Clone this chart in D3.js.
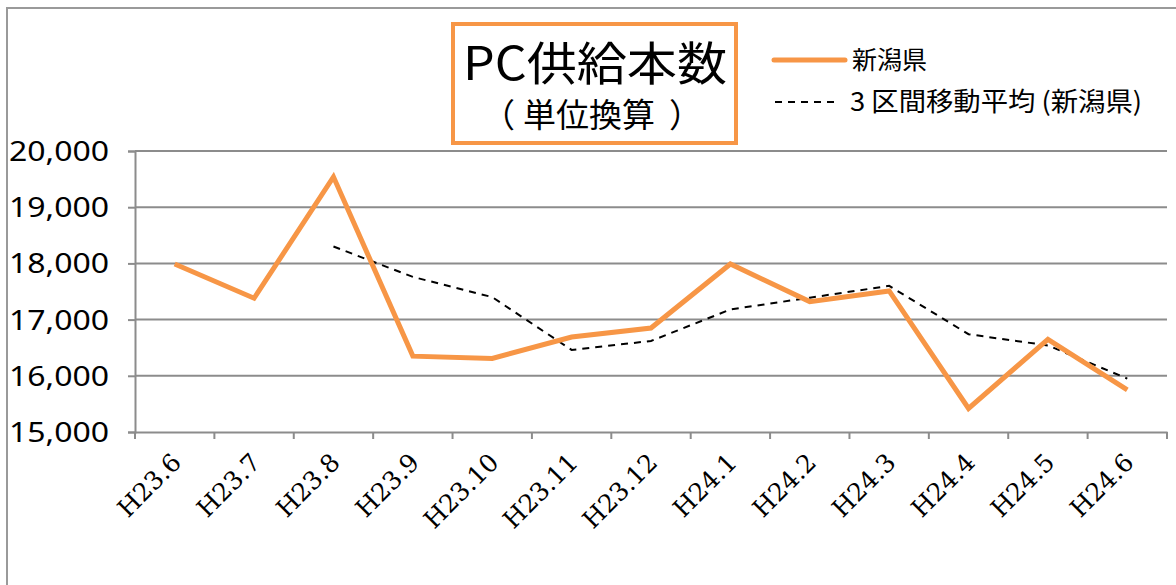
<!DOCTYPE html>
<html><head><meta charset="utf-8">
<script src="https://cdn.jsdelivr.net/npm/d3@7"></script>
<style>body{margin:0;background:#fff}svg{display:block}</style>
</head><body>
<svg id="c" width="1176" height="585"></svg>
<script>
const categories = ["H23.6","H23.7","H23.8","H23.9","H23.10","H23.11","H23.12","H24.1","H24.2","H24.3","H24.4","H24.5","H24.6"];
const niigata = [17990,17380,19540,16350,16310,16690,16850,17990,17320,17510,15420,16650,15750];
const movingAvg = [null,null,18300,17760,17400,16460,16620,17180,17390,17600,16740,16540,15950];
const yTicks = [15000,16000,17000,18000,19000,20000];
const titleLines = ["PC供給本数","（単位換算）"];
const legendLabels = ["新潟県","3 区間移動平均 (新潟県)"];

const svg = d3.select("#c");
const orange = "#F79646", grid = "#8c8c8c";
const x = d3.scaleBand().domain(categories).range([135,1167]).padding(0);
const y = d3.scaleLinear().domain([15000,20000]).range([432,151]);
const cx = d => x(d) + x.bandwidth()/2;

// outer frame
svg.append("path").attr("d","M7,585 V8 H1176").attr("fill","none").attr("stroke","#9a9a9a").attr("stroke-width",2);

// gridlines
svg.append("g").selectAll("line").data(yTicks.filter(t=>t!==15000)).join("line")
  .attr("x1",135).attr("x2",1167).attr("y1",d=>y(d)).attr("y2",d=>y(d))
  .attr("stroke",grid).attr("stroke-width",2);

// y axis
const ya = svg.append("g").attr("transform","translate(135,0)")
  .call(d3.axisLeft(y).tickValues(yTicks).tickSize(7).tickPadding(19).tickFormat(d3.format(",")));
ya.select(".domain").attr("stroke",grid).attr("stroke-width",2);
ya.selectAll(".tick line").attr("stroke",grid).attr("stroke-width",2);
ya.selectAll("text").attr("font-family","'Noto Sans', sans-serif").attr("font-size",28).attr("fill","#000")
  .attr("textLength",100).attr("lengthAdjust","spacingAndGlyphs").attr("dy","0.34em");

// x axis
const xa = svg.append("g").attr("transform","translate(0,432)")
  .call(d3.axisBottom(x).tickSize(0).tickFormat(""));
xa.select(".domain").attr("stroke",grid).attr("stroke-width",2);
svg.append("g").selectAll("line").data(categories.concat(["_end"])).join("line")
  .attr("x1",(d,i)=> i<categories.length ? x(d) : x(categories[categories.length-1])+x.bandwidth())
  .attr("x2",(d,i)=> i<categories.length ? x(d) : x(categories[categories.length-1])+x.bandwidth())
  .attr("y1",432).attr("y2",439).attr("stroke",grid).attr("stroke-width",2);
svg.append("g").selectAll("text").data(categories).join("text")
  .attr("transform",d=>`translate(${cx(d)+8},464) rotate(-45)`)
  .attr("text-anchor","end")
  .attr("font-family","'DejaVu Serif', serif").attr("font-size",25).attr("fill","#000")
  .text(d=>d);

// lines
const line = d3.line().defined(d=>d.v!=null).x(d=>cx(d.c)).y(d=>y(d.v));
svg.append("path").datum(categories.map((c,i)=>({c,v:movingAvg[i]})))
  .attr("d",line).attr("fill","none").attr("stroke","#000").attr("stroke-width",2).attr("stroke-dasharray","7,6");
svg.append("path").datum(categories.map((c,i)=>({c,v:niigata[i]})))
  .attr("d",line).attr("fill","none").attr("stroke",orange).attr("stroke-width",5).attr("stroke-linejoin","miter");

// title box
svg.append("rect").attr("x",453).attr("y",24).attr("width",283).attr("height",119)
  .attr("fill","#fff").attr("stroke",orange).attr("stroke-width",4);
svg.append("text").attr("x",463).attr("y",80)
  .attr("font-family","'Noto Sans CJK JP', sans-serif").attr("font-size",46).attr("fill","#000")
  .attr("textLength",264).attr("lengthAdjust","spacingAndGlyphs").text(titleLines[0]);
svg.append("text").attr("x","482 523 556 589 622 669").attr("y",127)
  .attr("font-family","'Noto Sans CJK JP', sans-serif").attr("font-size",33).attr("fill","#000")
  .text(titleLines[1]);

// legend
svg.append("line").attr("x1",774).attr("x2",845).attr("y1",60).attr("y2",60).attr("stroke",orange).attr("stroke-width",5).attr("stroke-linecap","round");
svg.append("line").attr("x1",775).attr("x2",835).attr("y1",102).attr("y2",102).attr("stroke","#000").attr("stroke-width",2).attr("stroke-dasharray","7,6");
svg.append("text").attr("x",852).attr("y",69).attr("font-family","'Noto Sans CJK JP', sans-serif").attr("font-size",25).attr("fill","#000")
  .attr("textLength",75).attr("lengthAdjust","spacingAndGlyphs").text(legendLabels[0]);
svg.append("text").attr("x",850).attr("y",111).attr("font-family","'Noto Sans CJK JP', sans-serif").attr("font-size",26).attr("fill","#000")
  .attr("textLength",292).attr("lengthAdjust","spacingAndGlyphs").text(legendLabels[1]);
</script>
</body></html>
